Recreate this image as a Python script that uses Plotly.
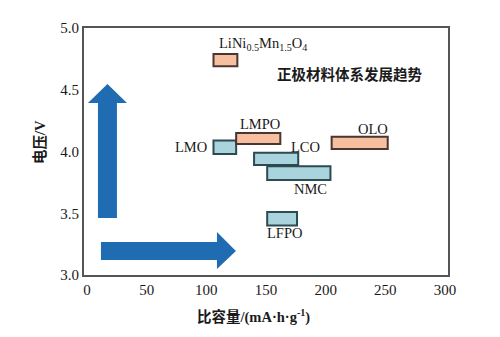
import plotly.graph_objects as go

# ---- data ----
materials = ["LiNi<sub>0.5</sub>Mn<sub>1.5</sub>O<sub>4</sub>", "LMO", "LMPO", "LCO", "NMC", "OLO", "LFPO"]
cap_min = [106, 106, 125, 140, 151, 205, 151]   # mA·h/g
cap_max = [126, 125, 162, 177, 204, 252, 176]
volt_min = [4.69, 3.98, 4.06, 3.89, 3.77, 4.02, 3.40]  # V
volt_max = [4.79, 4.09, 4.15, 3.99, 3.88, 4.12, 3.51]
family = ["new", "old", "new", "old", "old", "new", "old"]
label_x = [147.6, 102.4, 145.2, 183.3, 187.7, 239.3, 165.5]
label_y = [4.87, 4.04, 4.226, 4.04, 3.70, 4.185, 3.339]
label_anchor = ["center", "right", "center", "center", "center", "center", "center"]

x_ticks = [0, 50, 100, 150, 200, 250, 300]
y_ticks = [3.0, 3.5, 4.0, 4.5, 5.0]

fill_col = {"new": "#f6bf9f", "old": "#a9d3dd"}
line_col = {"new": "#4a3530", "old": "#2c4a50"}
arrow_col = "#1f6cb2"
serif = "Liberation Serif, Times New Roman, Noto Sans CJK SC, serif"

fig = go.Figure()
# invisible trace to establish axes
fig.add_trace(go.Scatter(x=[0, 300], y=[3, 5], mode="markers",
                         marker=dict(opacity=0), hoverinfo="skip", showlegend=False))

shapes = []
for i in range(len(materials)):
    shapes.append(dict(type="rect", xref="x", yref="y",
                       x0=cap_min[i], x1=cap_max[i], y0=volt_min[i], y1=volt_max[i],
                       fillcolor=fill_col[family[i]],
                       line=dict(color=line_col[family[i]], width=2)))

# decorative arrows (data units)
vx0, vx1, vy0, vy1 = 9.2, 25.1, 3.462, 4.393      # vertical shaft
vhx0, vhx1, vhy = 0.8, 33.5, 4.547                 # vertical head base / apex
vpath = (f"M {vx0},{vy0} L {vx1},{vy0} L {vx1},{vy1} L {vhx1},{vy1} "
         f"L {(vhx0+vhx1)/2},{vhy} L {vhx0},{vy1} L {vx0},{vy1} Z")
hx0, hx1, hy0, hy1 = 11.7, 108.9, 3.121, 3.267    # horizontal shaft
hhy0, hhy1, hhx = 3.049, 3.348, 124.8             # horizontal head
hpath = (f"M {hx0},{hy0} L {hx1},{hy0} L {hx1},{hhy0} L {hhx},{(hy0+hy1)/2} "
         f"L {hx1},{hhy1} L {hx1},{hy1} L {hx0},{hy1} Z")
shapes.append(dict(type="path", xref="x", yref="y", path=vpath,
                   fillcolor=arrow_col, line=dict(width=0)))
shapes.append(dict(type="path", xref="x", yref="y", path=hpath,
                   fillcolor=arrow_col, line=dict(width=0)))

annotations = []
for i in range(len(materials)):
    annotations.append(dict(x=label_x[i], y=label_y[i], xref="x", yref="y",
                            text=materials[i], showarrow=False,
                            xanchor=label_anchor[i], yanchor="middle",
                            font=dict(family=serif, size=14.5, color="#1a1a1a")))
annotations.append(dict(x=220, y=4.621, xref="x", yref="y",
                        text="<b>正极材料体系发展趋势</b>", showarrow=False,
                        xanchor="center", yanchor="middle",
                        font=dict(family=serif, size=14.5, color="#1a1a1a")))
annotations.append(dict(x=0.4657, y=-0.166, xref="paper", yref="paper",
                        text="<b>比容量/(mA·h·g<sup>-1</sup>)</b>", showarrow=False,
                        xanchor="center", yanchor="middle",
                        font=dict(family=serif, size=14.5, color="#1a1a1a")))
annotations.append(dict(x=-0.121, y=0.538, xref="paper", yref="paper",
                        text="<b>电压/V</b>", showarrow=False, textangle=-90,
                        xanchor="center", yanchor="middle",
                        font=dict(family=serif, size=14.5, color="#1a1a1a")))

fig.update_layout(
    width=500, height=337,
    margin=dict(l=84, r=52, t=28, b=62),
    paper_bgcolor="white", plot_bgcolor="white",
    shapes=shapes, annotations=annotations,
    showlegend=False,
    xaxis=dict(range=[-2.5, 302.5], tickvals=x_ticks, ticks="", showgrid=False,
               zeroline=False, showline=True, mirror=True, linecolor="#555555",
               linewidth=2, tickfont=dict(family=serif, size=15, color="#1a1a1a")),
    yaxis=dict(range=[3.0, 5.0], tickvals=y_ticks, tickformat=".1f", ticks="",
               showgrid=False, zeroline=False, showline=True, mirror=True,
               linecolor="#555555", linewidth=2,
               tickfont=dict(family=serif, size=15, color="#1a1a1a")),
)

fig.write_html("out.html")
